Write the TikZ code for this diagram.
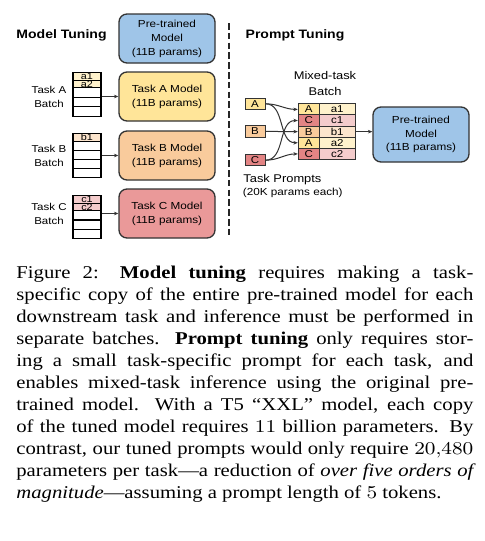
\documentclass[tikz,border=0pt]{standalone}
\usepackage[no-math]{fontspec}
\setmainfont[Ligatures=TeX,FakeStretch=1.15]{Liberation Serif}
\newfontfamily\arialf[FakeStretch=1.15]{Liberation Sans}
\usepackage{graphicx}
\usetikzlibrary{arrows.meta}
\newcommand{\stnum}[1]{\scalebox{1.15}[1]{$#1$}}
\newcommand{\fsz}[2]{\fontsize{#1}{#2}\selectfont}
\definecolor{pblue}{HTML}{9FC5E8}
\definecolor{yelA}{HTML}{FFE599}
\definecolor{oraB}{HTML}{F9CB9C}
\definecolor{redC}{HTML}{EA9999}
\definecolor{redP}{HTML}{E38484}
\definecolor{yelL}{HTML}{FFF2CC}
\definecolor{oraL}{HTML}{FCE5CD}
\definecolor{redL}{HTML}{F4CCCC}
\definecolor{edgec}{HTML}{333333}
\tikzset{
  model/.style={draw=edgec, line width=0.65pt, rounded corners=4pt, minimum width=48pt, minimum height=24.5pt, inner sep=0pt, align=center, font=\arialf\fsz{5.1}{7}},
  ttl/.style={font=\arialf\bfseries\fsz{6.1}{7}, inner sep=0pt},
  lbl/.style={font=\arialf\fsz{5}{7}, align=center, inner sep=0pt},
  cell/.style={draw=black, line width=0.6pt, inner sep=0pt, minimum width=14pt, anchor=north, font=\arialf\fsz{4.7}{4.7}},
  mcell/.style={draw=edgec, line width=0.5pt, inner sep=0pt, minimum height=5.57pt, anchor=north, font=\arialf\fsz{5}{5}},
  mleft/.style={mcell, minimum width=10.5pt},
  mright/.style={mcell, minimum width=17.85pt},
  pbox/.style={draw=edgec, line width=0.5pt, inner sep=0pt, minimum width=10pt, minimum height=5.65pt, font=\arialf\fsz{5}{5}},
  arr/.style={draw=edgec, line width=0.5pt, -{Stealth[length=2.2pt,width=1.8pt]}},
}
\begin{document}
\begin{tikzpicture}[x=0.5pt, y=-0.5pt]
\fill[white] (0,0) rectangle (485,541);
\useasboundingbox (0,0) rectangle (485,541);

% ---------- Model tuning ----------
\node[ttl] (tl) at (61.5,35) {Model Tuning};
\node[model, fill=pblue] (pre1) at (167,38.5) {Pre-trained\\Model\\(11B params)};
\node[model, fill=yelA] (mA) at (167,96.5) {Task A Model\\(11B params)};
\node[model, fill=oraB] (mB) at (167,155.5) {Task B Model\\(11B params)};
\node[model, fill=redC] (mC) at (167,213.5) {Task C Model\\(11B params)};

\node[lbl] (lA) at (49,97) {Task A\\Batch};
\node[lbl] (lB) at (49,155.5) {Task B\\Batch};
\node[lbl] (lC) at (49,214) {Task C\\Batch};

\node[cell, fill=yelL, minimum height=3.75pt] (a1) at (87,72) {a1};
\node[cell, fill=yelL, minimum height=3.75pt] (a2) at (87,79.5) {a2};
\node[cell, minimum height=4.75pt] (a3) at (87,87) {};
\node[cell, minimum height=4.75pt] (a4) at (87,96.5) {};
\node[cell, minimum height=4.75pt] (a5) at (87,106) {};

\node[cell, fill=oraL, minimum height=3.75pt] (b1) at (87,133) {b1};
\node[cell, minimum height=4.5pt] (b2) at (87,140.5) {};
\node[cell, minimum height=4.5pt] (b3) at (87,149.5) {};
\node[cell, minimum height=4.5pt] (b4) at (87,158.5) {};
\node[cell, minimum height=4.5pt] (b5) at (87,167.5) {};

\node[cell, fill=redL, minimum height=3.75pt] (c1) at (87,195) {c1};
\node[cell, fill=redL, minimum height=3.75pt] (c2) at (87,202.5) {c2};
\node[cell, minimum height=4.65pt] (c3) at (87,210) {};
\node[cell, minimum height=4.65pt] (c4) at (87,219.3) {};
\node[cell, minimum height=4.65pt] (c5) at (87,228.6) {};

\draw[arr] (mA.west -| a4.east) -- (mA.west);
\draw[arr] (mB.west -| b3.east) -- (mB.west);
\draw[arr] (mC.west -| c3.east) -- (mC.west);

% ---------- divider ----------
\coordinate (d1) at (229,23);
\coordinate (d2) at (229,237);
\draw[line width=0.9pt, dash pattern=on 3.3pt off 1.6pt, draw=black!85] (d1) -- (d2);

% ---------- Prompt tuning ----------
\node[ttl] (tr) at (295,35) {Prompt Tuning};
\node[lbl, font=\arialf\fsz{5.6}{8}] (mix) at (325,83) {Mixed-task\\Batch};

\node[pbox, fill=yelA] (pA) at (255,103.8) {A};
\node[pbox, fill=oraB] (pB) at (255,131.4) {B};
\node[pbox, fill=redP] (pC) at (255,160.2) {C};

\node[mleft, fill=yelA] (m1l) at (308.8,103.3) {A};
\node[mright, fill=yelL] (m1r) at (337.15,103.3) {a1};
\node[mleft, fill=redP] (m2l) at (308.8,114.44) {C};
\node[mright, fill=redL] (m2r) at (337.15,114.44) {c1};
\node[mleft, fill=oraB] (m3l) at (308.8,125.58) {B};
\node[mright, fill=oraL] (m3r) at (337.15,125.58) {b1};
\node[mleft, fill=yelA] (m4l) at (308.8,136.72) {A};
\node[mright, fill=yelL] (m4r) at (337.15,136.72) {a2};
\node[mleft, fill=redP] (m5l) at (308.8,147.86) {C};
\node[mright, fill=redL] (m5r) at (337.15,147.86) {c2};

\draw[arr] (pA.east) to[out=0,in=180] (m1l.west);
\draw[arr] (pA.east) to[out=0,in=180] (m4l.west);
\draw[arr] (pB.east) -- (m3l.west);
\draw[arr] (pC.east) to[out=0,in=180] (m2l.west);
\draw[arr] (pC.east) to[out=0,in=180] (m5l.west);

\node[model, fill=pblue, minimum height=27.5pt, font=\arialf\fsz{5.1}{6.7}] (pre2) at (421,134.5) {Pre-trained\\Model\\(11B params)};
\draw[arr] (m3r.east) -- (m3r.east -| pre2.west);

\node[anchor=west, inner sep=0pt, font=\arialf\fsz{5.6}{6}] (tp1) at (243,180) {Task Prompts};
\node[anchor=west, inner sep=0pt, font=\arialf\fsz{5.1}{6}] (tp2) at (242.5,193) {(20K params each)};

% ---------- caption ----------
\node[anchor=north west, inner sep=0pt, text width=228.5pt, align=justify, font=\fsz{9}{11}] (cap) at (16,265.6) {\tolerance=10000 \hyphenpenalty=10000 \exhyphenpenalty=10000 Figure 2: \textbf{Model tuning} requires making a task-\linebreak specific copy of the entire pre-trained model for each\linebreak downstream task and inference must be performed in\linebreak separate batches. \textbf{Prompt tuning} only requires stor-\linebreak ing a small task-specific prompt for each task, and\linebreak enables mixed-task inference using the original pre-\linebreak trained model. With a T5 ``XXL'' model, each copy\linebreak of the tuned model requires \stnum{11} billion parameters. By\linebreak contrast, our tuned prompts would only require \stnum{20{,}480}\linebreak parameters per task---a reduction of \textit{over five orders of\linebreak magnitude}---assuming a prompt length of \stnum{5} tokens.};
\end{tikzpicture}
\end{document}
